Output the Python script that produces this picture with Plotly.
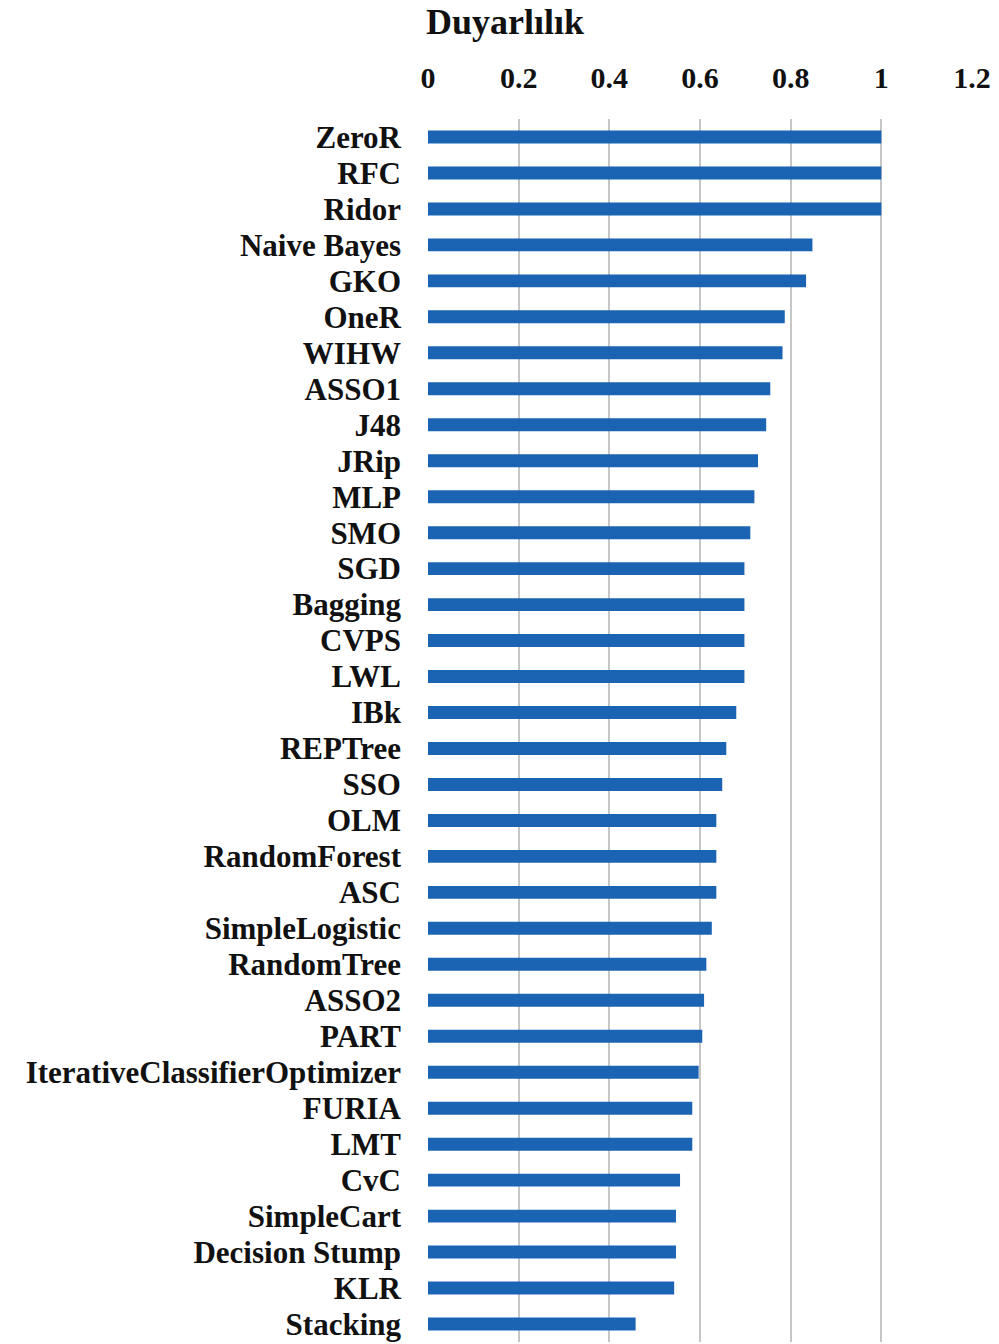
import plotly.graph_objects as go

# Classifier names, top to bottom
classifiers = [
    "ZeroR", "RFC", "Ridor", "Naive Bayes", "GKO", "OneR", "WIHW", "ASSO1",
    "J48", "JRip", "MLP", "SMO", "SGD", "Bagging", "CVPS", "LWL", "IBk",
    "REPTree", "SSO", "OLM", "RandomForest", "ASC", "SimpleLogistic",
    "RandomTree", "ASSO2", "PART", "IterativeClassifierOptimizer", "FURIA",
    "LMT", "CvC", "SimpleCart", "Decision Stump", "KLR", "Stacking",
]

# Sensitivity (Duyarlılık) per classifier
sensitivity = [
    1.0, 1.0, 1.0, 0.848, 0.834, 0.787, 0.782, 0.755,
    0.746, 0.728, 0.720, 0.711, 0.698, 0.698, 0.698, 0.698, 0.680,
    0.658, 0.649, 0.636, 0.636, 0.636, 0.626,
    0.614, 0.609, 0.605, 0.597, 0.583,
    0.583, 0.556, 0.547, 0.547, 0.543, 0.458,
]

x_ticks = [0, 0.2, 0.4, 0.6, 0.8, 1.0, 1.2]
x_tick_text = ["0", "0.2", "0.4", "0.6", "0.8", "1", "1.2"]

SERIF = "Liberation Serif, Times New Roman, serif"

fig = go.Figure(
    go.Bar(
        x=sensitivity,
        y=classifiers,
        orientation="h",
        marker=dict(color="#1B63B3", line=dict(width=0)),
        width=0.36,
        hoverinfo="x+y",
    )
)

fig.update_layout(
    width=999,
    height=1344,
    margin=dict(l=428, r=27, t=119, b=2),
    paper_bgcolor="white",
    plot_bgcolor="white",
    showlegend=False,
    font=dict(family=SERIF, color="#111111"),
    xaxis=dict(
        side="top",
        range=[0, 1.2],
        tickvals=x_ticks,
        ticktext=x_tick_text,
        tickfont=dict(family=SERIF, size=30, color="#111111", weight="bold"),
        ticks="",
        ticklabelstandoff=24,
        showgrid=True,
        gridcolor="#c6c6c6",
        gridwidth=1.5,
        zeroline=False,
        showline=False,
        fixedrange=True,
    ),
    yaxis=dict(
        type="category",
        categoryorder="array",
        categoryarray=classifiers,
        tickmode="array",
        tickvals=classifiers,
        ticktext=classifiers,
        autorange="reversed",
        tickfont=dict(family=SERIF, size=31, color="#111111", weight="bold"),
        ticks="",
        ticklabelstandoff=26,
        showgrid=False,
        showline=False,
        fixedrange=True,
    ),
    annotations=[
        dict(
            text="<b>Duyarlılık</b>",
            xref="paper",
            yref="paper",
            x=0,
            y=1,
            xanchor="left",
            yanchor="middle",
            xshift=-4,
            yshift=97,
            showarrow=False,
            font=dict(family=SERIF, size=36, color="#111111"),
        )
    ],
)

fig.write_html("out.html")
